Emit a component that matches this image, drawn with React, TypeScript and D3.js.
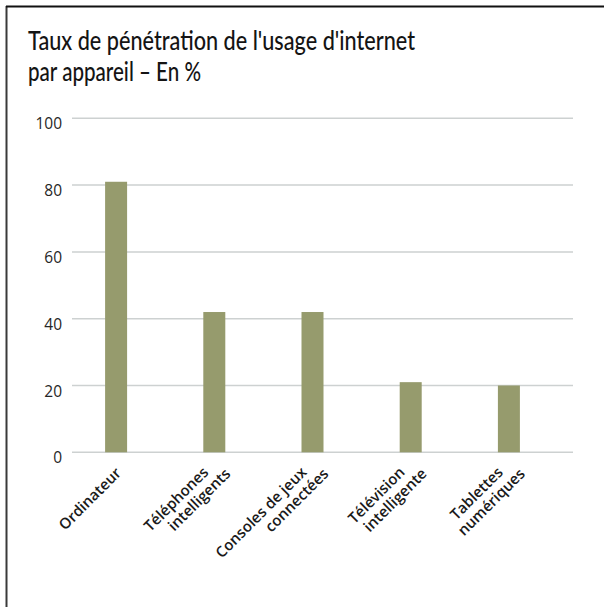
import React from "react";
import * as d3 from "d3";

const categories: string[][] = [
  ["Ordinateur"],
  ["Téléphones", "intelligents"],
  ["Consoles de jeux", "connectées"],
  ["Télévision", "intelligente"],
  ["Tablettes", "numériques"],
];
const values: number[] = [81, 42, 42, 21, 20];
const yTicks: number[] = [0, 20, 40, 60, 80, 100];
const titleLines: string[] = ["Taux de pénétration de l'usage d'internet", "par appareil – En %"];

const W = 604;
const H = 607;

export default function App() {
  const x = d3
    .scaleBand<number>()
    .domain(d3.range(categories.length))
    .range([67, 558])
    .paddingInner(0.776)
    .paddingOuter(0.388);
  const y = d3.scaleLinear().domain([0, 100]).range([452.3, 118.3]);
  const gridX0 = 72;
  const gridX1 = 573;

  return (
    <div style={{ position: "fixed", left: 0, top: 0, width: W, height: H, background: "#fff" }}>
      <svg width={W} height={H} style={{ display: "block" }}>
        <rect x={0} y={0} width={W} height={H} fill="#fff" />
        {/* frame */}
        <line x1={6.5} y1={6} x2={6.5} y2={H} stroke="#3a3a3a" strokeWidth={2} />
        <line x1={6} y1={6.5} x2={W} y2={6.5} stroke="#111" strokeWidth={2} />
        {/* title */}
        <g fontFamily="Lato, 'Open Sans', sans-serif" fontSize={26.5} fontWeight={500} fill="#141414">
          <text x={28} y={50} textLength={387} lengthAdjust="spacingAndGlyphs">
            {titleLines[0]}
          </text>
          <text x={28} y={80.5} textLength={173} lengthAdjust="spacingAndGlyphs">
            {titleLines[1]}
          </text>
        </g>
        {/* grid + y labels */}
        {yTicks.map((t) => (
          <g key={t}>
            <line x1={gridX0} x2={gridX1} y1={y(t)} y2={y(t)} stroke="#cdd1d1" strokeWidth={1.5} />
            <text
              x={62}
              y={y(t) + 11}
              textAnchor="end"
              fontFamily="'Open Sans', sans-serif"
              fontSize={15.5}
              fill="#262626"
            >
              {t}
            </text>
          </g>
        ))}
        {/* bars */}
        {values.map((v, i) => (
          <rect
            key={i}
            x={x(i)}
            y={y(v)}
            width={x.bandwidth()}
            height={y(0) - y(v)}
            fill="#969b6d"
          />
        ))}
        {/* x labels */}
        {categories.map((lines, i) => {
          const cx = (x(i) as number) + x.bandwidth() / 2;
          const n = lines.length;
          return (
            <g key={i}>
              {lines.map((ln, k) => {
                const ex = cx + 6 + (k - (n - 1) / 2) * 22;
                const ey = 474 + (k - (n - 1) / 2) * 1.5;
                return (
                  <text
                    key={k}
                    transform={`translate(${ex},${ey}) rotate(-45)`}
                    textAnchor="end"
                    fontFamily="'Open Sans', sans-serif"
                    fontWeight={600}
                    fontSize={15}
                    fill="#1a1a1a"
                  >
                    {ln}
                  </text>
                );
              })}
            </g>
          );
        })}
      </svg>
    </div>
  );
}
